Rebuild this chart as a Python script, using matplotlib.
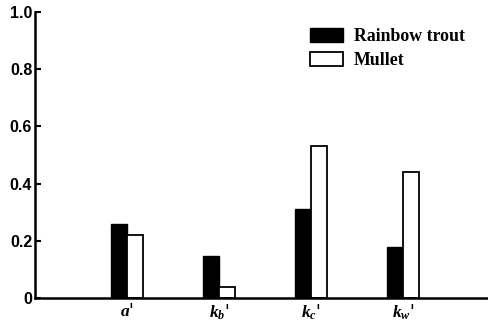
import numpy as np
import matplotlib
matplotlib.use("Agg")
from matplotlib import pyplot as plt
from matplotlib.patches import Patch

plt.rcParams['mathtext.fontset'] = 'custom'
plt.rcParams['mathtext.it'] = 'Liberation Serif:italic:bold'
plt.rcParams['mathtext.rm'] = 'Liberation Serif:bold'

params = [r"$a$'", r"$k_b$'", r"$k_c$'", r"$k_w$'"]
trout = [0.259, 0.147, 0.311, 0.178]
mullet = [0.220, 0.038, 0.532, 0.440]
yticks = [0, 0.2, 0.4, 0.6, 0.8, 1.0]
ytick_labels = ["0", "0.2", "0.4", "0.6", "0.8", "1.0"]

fig = plt.figure(figsize=(4.88, 3.24), dpi=100)
ax = fig.add_axes([35/488, 1 - 298/324, 1 - 35/488, (298 - 12)/324])

x = np.arange(1, len(params) + 1)
w = 0.175
ax.bar(x - w/2, trout, w, color='black', edgecolor='black', linewidth=1.0)
ax.bar(x + w/2, mullet, w, color='white', edgecolor='black', linewidth=1.3)

ax.set_xlim(0, 4.92)
ax.set_ylim(0, 1.0)
ax.set_yticks(yticks)
ax.set_yticklabels(ytick_labels, fontfamily='Liberation Sans', fontweight='bold', fontsize=11.5)
ax.set_xticks(x)
ax.set_xticklabels(params, fontsize=12.5)
ax.tick_params(axis='y', direction='in', length=4, width=1.5, pad=2)
ax.tick_params(axis='x', length=0, pad=3)

for s in ['top', 'right']:
    ax.spines[s].set_visible(False)
ax.spines['left'].set_linewidth(1.8)
ax.spines['bottom'].set_linewidth(1.8)

handles = [Patch(facecolor='black', edgecolor='black', label='Rainbow trout'),
           Patch(facecolor='white', edgecolor='black', linewidth=1.3, label='Mullet')]
fig.legend(handles=handles, loc='upper left', bbox_to_anchor=(310/488, 1 - 28/324),
           frameon=False, borderpad=0, borderaxespad=0, handlelength=1.85, handleheight=0.8,
           handletextpad=0.6, labelspacing=0.4,
           prop={'family': 'Liberation Serif', 'weight': 'bold', 'size': 12.8})

fig.savefig("out.png", dpi=100)
